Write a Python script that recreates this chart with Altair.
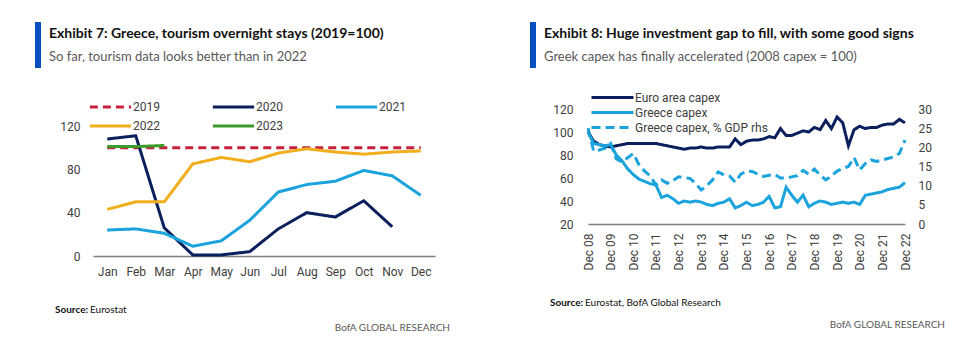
import json
import pandas as pd
import altair as alt

# ---------------- data: Exhibit 7 ----------------
months = ["Jan", "Feb", "Mar", "Apr", "May", "Jun", "Jul", "Aug", "Sep", "Oct", "Nov", "Dec"]
years = ["2019", "2020", "2021", "2022", "2023"]
s2019 = [100, 100, 100, 100, 100, 100, 100, 100, 100, 100, 100, 100]
s2020 = [108, 111, 26, 1, 1, 4, 25, 40, 36, 51, 27]
s2021 = [24, 25, 21, 9, 14, 33, 59, 66, 69, 79, 74, 56]
s2022 = [43, 50, 50, 85, 91, 87, 95, 99, 96, 94, 96, 97]
s2023 = [101, 101, 102]
year_colors = ["#C8203C", "#0A1F5C", "#1AA3DD", "#F2AE1C", "#3A9A2A"]
year_dash = [[8, 5], [1, 0], [1, 0], [1, 0], [1, 0]]

# ---------------- data: Exhibit 8 ----------------
xlabels = ["Dec 08", "Dec 09", "Dec 10", "Dec 11", "Dec 12", "Dec 13", "Dec 14",
           "Dec 15", "Dec 16", "Dec 17", "Dec 18", "Dec 19", "Dec 20", "Dec 21", "Dec 22"]
series_names = ["Euro area capex", "Greece capex", "Greece capex, % GDP rhs"]
euro = [100, 92, 89, 88, 87, 88, 89, 90, 90, 90, 90, 90, 90, 89, 88, 87, 86, 85, 86, 86,
        87, 86, 86, 87, 87, 87, 94, 89, 92, 93, 93, 94, 96, 95, 103, 97, 97, 99, 101, 100,
        104, 102, 110, 103, 113, 108, 88, 102, 105, 103, 104, 104, 106, 107, 107, 111, 108]
greece = [100, 90, 89, 88, 89, 80, 75, 68, 63, 59, 57, 55, 54, 43, 45, 42, 38, 40, 39, 40,
          39, 37, 36, 38, 39, 42, 34, 36, 39, 36, 37, 39, 44, 34, 35, 52, 45, 39, 45, 35,
          38, 40, 39, 37, 38, 39, 38, 39, 37, 45, 46, 47, 48, 50, 51, 52, 56]
greece_pct = [25, 19, 19.3, 19.8, 21, 17, 16.2, 17.3, 18.4, 15.5, 13.8, 12.5, 10.2, 11.5,
              10.6, 11.3, 12.3, 12.1, 11.9, 10.6, 8.9, 10, 11.5, 13.6, 12.8, 12.5, 10.9, 13,
              13.8, 13.7, 13, 12.4, 12.7, 12.9, 12, 12, 12.3, 12.6, 14, 13, 14.3, 12.8, 11.5,
              12.5, 13.8, 14.5, 15, 17.3, 14.1, 15.8, 16.7, 16.3, 16.7, 17.1, 17.5, 18.4, 21.9]
series_colors = ["#0A1F5C", "#1AA3DD", "#1AA3DD"]
series_dash = [[1, 0], [1, 0], [9, 5]]

# ---------------- styling ----------------
TFONT = "Lato"
LFONT = "Roboto"
LSIZE = 12
LCOL = "#404040"

rows = []
for y, s in zip(years, [s2019, s2020, s2021, s2022, s2023]):
    for m, v in zip(months, s):
        rows.append({"month": m, "year": y, "value": v})
df_left = pd.DataFrame(rows)

r1 = []
for name, s in zip(series_names[:2], [euro, greece]):
    for i, v in enumerate(s):
        r1.append({"idx": i, "series": name, "value": v})
df_r1 = pd.DataFrame(r1)
df_r2 = pd.DataFrame({"idx": list(range(len(greece_pct))),
                      "series": series_names[2], "value": greece_pct})


def txt(s, x, y, size, weight="normal", color="#111111", font=TFONT, align="left"):
    return alt.Chart(pd.DataFrame({"t": [s]})).mark_text(
        align=align, baseline="alphabetic", font=font, fontSize=size,
        fontWeight=weight, color=color
    ).encode(x=alt.value(x), y=alt.value(y), text="t:N")


def bar(x, y, h):
    return alt.Chart(pd.DataFrame({"a": [0]})).mark_rect(color="#0A4FC0").encode(
        x=alt.value(x), x2=alt.value(x + 6), y=alt.value(y), y2=alt.value(y + h))


# ---------------- left chart ----------------
leg_left = alt.Legend(title=None, orient="none", legendX=-5, legendY=-9,
                      direction="horizontal", columns=3, symbolType="stroke",
                      symbolSize=1700, symbolStrokeWidth=3, labelFont=LFONT,
                      labelFontSize=LSIZE, labelColor=LCOL, columnPadding=51,
                      rowPadding=5, labelOffset=0, clipHeight=14)

left_lines = alt.Chart(df_left).mark_line(strokeWidth=3).encode(
    x=alt.X("month:N", sort=months, scale=alt.Scale(type="point", padding=0.5),
            axis=alt.Axis(title=None, labelAngle=0, ticks=False, labelPadding=10,
                          domainColor="#808080", domainWidth=1.5, labelFont=LFONT,
                          labelFontSize=LSIZE, labelColor=LCOL, grid=False)),
    y=alt.Y("value:Q", scale=alt.Scale(domain=[0, 135.7], nice=False),
            axis=alt.Axis(title=None, values=[0, 40, 80, 120], domain=False, ticks=False,
                          labelPadding=13, labelFont=LFONT, labelFontSize=LSIZE,
                          labelColor=LCOL, grid=False)),
    color=alt.Color("year:N", scale=alt.Scale(domain=years, range=year_colors), legend=leg_left),
    strokeDash=alt.StrokeDash("year:N", scale=alt.Scale(domain=years, range=year_dash),
                              legend=leg_left),
)

left = alt.layer(
    left_lines,
    bar(-58, -87, 46),
    txt("Exhibit 7: Greece, tourism overnight stays (2019=100)", -44, -71, 14, "bold"),
    txt("So far, tourism data looks better than in 2022", -44, -48, 13, "normal", "#595959"),
    txt("Source:", -38, 204, 10, "bold"),
    txt("Eurostat", -3, 204, 10, "normal"),
    txt("BofA GLOBAL RESEARCH", 357, 222, 10, "normal", "#595959", align="right"),
).properties(width=342, height=147)

# ---------------- right chart ----------------
leg_right = alt.Legend(title=None, orient="none", legendX=2, legendY=-18,
                       direction="vertical", symbolType="stroke", symbolSize=1764,
                       symbolStrokeWidth=3, labelFont=LFONT, labelFontSize=LSIZE,
                       labelColor=LCOL, rowPadding=2, labelOffset=0, clipHeight=13)

xaxis_r = alt.Axis(title=None, values=[i * 4 for i in range(len(xlabels))],
                   labelExpr=f"{json.dumps(xlabels)}[round(datum.value/4)]",
                   labelAngle=270, ticks=False, labelPadding=9, domainColor="#808080",
                   domainWidth=1.5, labelFont=LFONT, labelFontSize=LSIZE, labelColor=LCOL,
                   grid=False)
xscale_r = alt.Scale(domain=[0, 56], nice=False, zero=False)
color_r = alt.Color("series:N", scale=alt.Scale(domain=series_names, range=series_colors),
                    legend=leg_right)
dash_r = alt.StrokeDash("series:N", scale=alt.Scale(domain=series_names, range=series_dash),
                        legend=leg_right)

rl1 = alt.Chart(df_r1).mark_line(strokeWidth=3).encode(
    x=alt.X("idx:Q", scale=xscale_r, axis=xaxis_r),
    y=alt.Y("value:Q", scale=alt.Scale(domain=[20, 120], nice=False, zero=False),
            axis=alt.Axis(orient="left", title=None, values=[20, 40, 60, 80, 100, 120],
                          domain=False, ticks=False, labelPadding=15, labelFont=LFONT,
                          labelFontSize=LSIZE, labelColor=LCOL, grid=False)),
    color=color_r, strokeDash=dash_r,
)
rl2 = alt.Chart(df_r2).mark_line(strokeWidth=3).encode(
    x=alt.X("idx:Q", scale=xscale_r, axis=xaxis_r),
    y=alt.Y("value:Q", scale=alt.Scale(domain=[0, 30], nice=False),
            axis=alt.Axis(orient="right", title=None, values=[0, 5, 10, 15, 20, 25, 30],
                          domain=False, ticks=False, labelPadding=13, labelFont=LFONT,
                          labelFontSize=LSIZE, labelColor=LCOL, grid=False)),
    color=color_r, strokeDash=dash_r,
)

right = alt.layer(
    rl2, rl1,
    bar(-58, -87, 46),
    txt("Exhibit 8: Huge investment gap to fill, with some good signs", -44, -71, 14, "bold"),
    txt("Greek capex has finally accelerated (2008 capex = 100)", -44, -48, 13, "normal", "#595959"),
    txt("Source:", -38, 197, 10, "bold"),
    txt("Eurostat, BofA Global Research", -3, 197, 10, "normal"),
    txt("BofA GLOBAL RESEARCH", 357, 219, 10, "normal", "#595959", align="right"),
).resolve_scale(y="independent").properties(width=317, height=115)

chart = alt.hconcat(left, right, spacing=80).resolve_scale(
    color="independent", strokeDash="independent"
).resolve_legend(
    color="independent", strokeDash="independent"
).properties(
    padding={"left": 35, "top": 22, "right": 5, "bottom": 5},
    background="white",
).configure_view(stroke=None)

chart.save("out.html", embed_options={"renderer": "svg", "actions": False})
